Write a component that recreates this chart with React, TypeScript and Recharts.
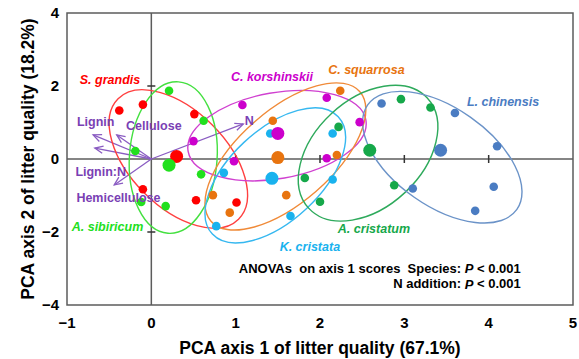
import React from 'react';
import * as R from 'recharts';

const { ScatterChart, Scatter, XAxis, YAxis, ReferenceLine, ReferenceArea, Label } = R as any;

const FONT = "'Liberation Sans', Arial, Helvetica, sans-serif";

// ---------- axes ----------
const X_DOMAIN = [-1, 5];
const Y_DOMAIN = [-4, 4];
const X_TICKS = [-1, 0, 1, 2, 3, 4, 5];
const Y_TICKS = [-4, -2, 0, 2, 4];
const CROSS_TICKS_X = [1, 2, 3, 4];
const CROSS_TICKS_Y = [2, -2];

// ---------- species ----------
const speciesNames = ['S. grandis', 'A. sibiricum', 'C. korshinskii', 'C. squarrosa', 'K. cristata', 'A. cristatum', 'L. chinensis'];
const speciesColors = ['#ff0000', '#22e01e', '#cc00cc', '#e8740f', '#19b2ee', '#16a84a', '#4a7cc2'];
const ellipseColors = ['#ff4040', '#44e040', '#d040d0', '#f08a38', '#36b8f0', '#2eaa5c', '#6b93c8'];

// replicate scores (PCA axis 1, PCA axis 2)
const sGrandisX = [-0.38, -0.10, 0.51, -0.10, 0.53, 1.01];
const sGrandisY = [1.33, 1.49, 1.23, -0.83, -1.13, -1.19];
const aSibiricumX = [0.21, 0.62, -0.19, 0.59, -0.12, 0.17];
const aSibiricumY = [1.87, 1.05, 0.22, -0.42, -1.18, -1.29];
const cKorshinskiiX = [0.50, 1.08, 0.98, 2.08, 2.47, 2.08];
const cKorshinskiiY = [0.49, 1.48, -0.06, 1.68, 1.01, 0.02];
const cSquarrosaX = [1.44, 0.73, 0.93, 1.60, 2.24, 2.20];
const cSquarrosaY = [1.05, -0.99, -1.47, -0.99, 1.87, 0.11];
const kCristataX = [1.41, 0.86, 1.65, 0.77, 2.15, 2.15];
const kCristataY = [0.70, -0.38, -1.56, -1.84, 0.70, -0.56];
const aCristatumX = [2.22, 2.96, 3.31, 2.88, 1.82, 2.00];
const aCristatumY = [0.88, 1.64, 1.41, -0.72, -0.52, -1.17];
const lChinensisX = [2.73, 3.60, 4.10, 3.10, 4.06, 3.84];
const lChinensisY = [1.52, 1.26, 0.35, -0.81, -0.76, -1.42];

const replicateX = [sGrandisX, aSibiricumX, cKorshinskiiX, cSquarrosaX, kCristataX, aCristatumX, lChinensisX];
const replicateY = [sGrandisY, aSibiricumY, cKorshinskiiY, cSquarrosaY, kCristataY, aCristatumY, lChinensisY];

// species means
const meanX = [0.30, 0.21, 1.50, 1.50, 1.43, 2.59, 3.43];
const meanY = [0.07, -0.17, 0.70, 0.04, -0.53, 0.24, 0.24];

// 95% ellipses: centre, semi-axes (in axis-1 units), rotation (deg)
const ellipseCx = [0.32, 0.26, 1.49, 1.59, 1.47, 2.57, 3.45];
const ellipseCy = [0.00, 0.04, 0.64, 0.07, -0.45, 0.16, 0.05];
const ellipseRx = [1.01, 0.52, 1.07, 1.17, 1.02, 0.96, 1.08];
const ellipseRy = [0.57, 0.90, 0.51, 0.55, 0.54, 0.64, 0.58];
const ellipseAngle = [45, 4, -10, -41, -43, -43, 35];

// species label anchors
const speciesLabelX = [-0.49, -0.52, 1.43, 2.55, 1.88, 2.64, 4.17];
const speciesLabelY = [2.16, -1.86, 2.25, 2.44, -2.41, -1.92, 1.56];

// litter trait loadings
const traitX = [-0.69, -0.67, -0.41, 1.09, -0.44];
const traitY = [0.66, 0.30, 0.66, 0.96, -0.71];
const traitLabels = ['Lignin', 'Cellulose', 'N', 'Lignin:N', 'Hemicellulose'];
const traitLabelX = [-0.66, 0.03, 1.16, -0.60, -0.39];
const traitLabelY = [1.01, 0.90, 1.04, -0.35, -1.06];

// ANOVA annotation
const anovaX = [4.38, 4.38];
const anovaY = [-2.99, -3.42];
const anovaPre = ['ANOVAs  on axis 1 scores  Species: ', 'N addition: '];
const anovaPost = ['< 0.001', '< 0.001'];

const PURPLE = '#7a3fb4';
const ARROW = '#8a5cc2';
const AXIS_COLOR = '#5c5c5c';

// ---------- derived tables ----------
const replicateData = speciesNames.map((_, i) =>
  replicateX[i].map((x, j) => ({ x, y: replicateY[i][j] }))
);
const meanData = speciesNames.map((_, i) => [{ x: meanX[i], y: meanY[i] }]);
const ellipseData = speciesNames.map((_, i) => ({
  x: ellipseCx[i], y: ellipseCy[i], rx: ellipseRx[i], ry: ellipseRy[i], angle: ellipseAngle[i], color: ellipseColors[i],
}));
const speciesLabelData = speciesNames.map((t, i) => ({ x: speciesLabelX[i], y: speciesLabelY[i], text: t, color: speciesColors[i] }));
const traitLabelData = traitLabels.map((t, i) => ({ x: traitLabelX[i], y: traitLabelY[i], text: t }));
const anovaData = anovaPre.map((t, i) => ({ x: anovaX[i], y: anovaY[i], pre: t, post: anovaPost[i] }));
const crossTickData = [
  ...CROSS_TICKS_X.map((x) => ({ x, y: 0, dir: 'v' })),
  ...CROSS_TICKS_Y.map((y) => ({ x: 0, y, dir: 'h' })),
];

const usePlotAreaSafe: () => any = (R as any).usePlotArea ?? (() => null);

function EllipseMark(props: any) {
  const area = usePlotAreaSafe();
  const kx = area && area.width ? area.width / (X_DOMAIN[1] - X_DOMAIN[0]) : 506 / 6;
  const { cx, cy, payload } = props;
  if (cx == null || cy == null) return null;
  return (
    <ellipse
      cx={cx}
      cy={cy}
      rx={payload.rx * kx}
      ry={payload.ry * kx}
      transform={`rotate(${payload.angle} ${cx} ${cy})`}
      fill="none"
      stroke={payload.color}
      strokeWidth={1.4}
    />
  );
}

function ArrowShape(props: any) {
  const { x1, y1, x2, y2 } = props;
  const a = Math.atan2(y2 - y1, x2 - x1);
  const L = 9;
  const s = 0.42;
  const ax = x2 - L * Math.cos(a - s);
  const ay = y2 - L * Math.sin(a - s);
  const bx = x2 - L * Math.cos(a + s);
  const by = y2 - L * Math.sin(a + s);
  return (
    <g>
      <line x1={x1} y1={y1} x2={x2} y2={y2} stroke={ARROW} strokeWidth={1.3} />
      <polyline points={`${ax},${ay} ${x2},${y2} ${bx},${by}`} fill="none" stroke={ARROW} strokeWidth={1.3} />
    </g>
  );
}

const fmt = (v: number) => (v < 0 ? `\u2212${Math.abs(v)}` : `${v}`);

export default function App() {
  return (
    <div style={{ position: 'absolute', left: 0, top: 0, width: 579, height: 359, background: '#fff' }}>
      <ScatterChart width={579} height={359} margin={{ top: 13, right: 6, bottom: 0, left: 0 }}>
        <XAxis
          type="number"
          dataKey="x"
          domain={X_DOMAIN}
          ticks={X_TICKS}
          allowDataOverflow
          axisLine={false}
          tickLine={false}
          tickSize={0}
          tickMargin={12}
          height={54}
          tickFormatter={fmt}
          tick={{ fill: '#000', fontSize: 15, fontWeight: 'bold', fontFamily: FONT }}
        >
          <Label
            content={(p: any) => {
              const vb = p.viewBox || { x: 67, y: 305, width: 506, height: 54 };
              return (
                <text x={vb.x + vb.width / 2} y={vb.y + vb.height - 5} textAnchor="middle" fontSize={17.5} fontWeight="bold" fontFamily={FONT} fill="#000">
                  PCA axis 1 of litter quality (67.1%)
                </text>
              );
            }}
          />
        </XAxis>
        <YAxis
          type="number"
          dataKey="y"
          domain={Y_DOMAIN}
          ticks={Y_TICKS}
          allowDataOverflow
          axisLine={false}
          tickLine={false}
          tickSize={0}
          tickMargin={8}
          width={67}
          tickFormatter={fmt}
          tick={{ fill: '#000', fontSize: 15, fontWeight: 'bold', fontFamily: FONT }}
        >
          <Label
            content={(p: any) => {
              const vb = p.viewBox || { x: 0, y: 13, width: 67, height: 292 };
              const cx = vb.x + 28;
              const cy = vb.y + vb.height / 2;
              return (
                <text x={cx} y={cy} textAnchor="middle" dominantBaseline="central" transform={`rotate(-90 ${cx} ${cy})`} fontSize={17.5} fontWeight="bold" fontFamily={FONT} fill="#000">
                  PCA axis 2 of litter quality (18.2%)
                </text>
              );
            }}
          />
        </YAxis>

        <ReferenceArea x1={X_DOMAIN[0]} x2={X_DOMAIN[1]} y1={Y_DOMAIN[0]} y2={Y_DOMAIN[1]} fill="none" fillOpacity={0} stroke={AXIS_COLOR} strokeWidth={1.5} />
        <ReferenceLine x={0} stroke={AXIS_COLOR} strokeWidth={1.5} />
        <ReferenceLine y={0} stroke={AXIS_COLOR} strokeWidth={1.5} />

        <Scatter
          data={crossTickData}
          isAnimationActive={false}
          shape={(p: any) =>
            p.payload.dir === 'v' ? (
              <line x1={p.cx} x2={p.cx} y1={p.cy - 4} y2={p.cy + 4} stroke="#333" strokeWidth={1.5} />
            ) : (
              <line x1={p.cx - 4} x2={p.cx + 4} y1={p.cy} y2={p.cy} stroke="#333" strokeWidth={1.5} />
            )
          }
        />

        <Scatter data={ellipseData} isAnimationActive={false} shape={(p: any) => <EllipseMark {...p} />} />

        {traitX.map((tx, i) => (
          <ReferenceLine
            key={`arrow-${i}`}
            segment={[{ x: 0, y: 0 }, { x: tx, y: traitY[i] }]}
            stroke={ARROW}
            shape={(p: any) => <ArrowShape {...p} />}
          />
        ))}

        {speciesNames.map((name, i) => (
          <Scatter
            key={`rep-${name}`}
            data={replicateData[i]}
            isAnimationActive={false}
            shape={(p: any) => <circle cx={p.cx} cy={p.cy} r={4.3} fill={speciesColors[i]} />}
          />
        ))}
        {speciesNames.map((name, i) => (
          <Scatter
            key={`mean-${name}`}
            data={meanData[i]}
            isAnimationActive={false}
            shape={(p: any) => <circle cx={p.cx} cy={p.cy} r={6.5} fill={speciesColors[i]} />}
          />
        ))}

        <Scatter
          data={speciesLabelData}
          isAnimationActive={false}
          shape={(p: any) => (
            <text x={p.cx} y={p.cy} textAnchor="middle" dominantBaseline="central" fill={p.payload.color} fontSize={12.5} fontWeight="bold" fontStyle="italic" fontFamily={FONT}>
              {p.payload.text}
            </text>
          )}
        />
        <Scatter
          data={traitLabelData}
          isAnimationActive={false}
          shape={(p: any) => (
            <text x={p.cx} y={p.cy} textAnchor="middle" dominantBaseline="central" fill={PURPLE} fontSize={12.5} fontWeight="bold" fontFamily={FONT}>
              {p.payload.text}
            </text>
          )}
        />
        <Scatter
          data={anovaData}
          isAnimationActive={false}
          shape={(p: any) => (
            <text x={p.cx} y={p.cy} textAnchor="end" dominantBaseline="central" fill="#000" fontSize={13} fontWeight="bold" fontFamily={FONT} style={{ whiteSpace: 'pre' }}>
              {p.payload.pre}
              <tspan fontStyle="italic">P</tspan>
              {' ' + p.payload.post}
            </text>
          )}
        />
      </ScatterChart>
    </div>
  );
}
